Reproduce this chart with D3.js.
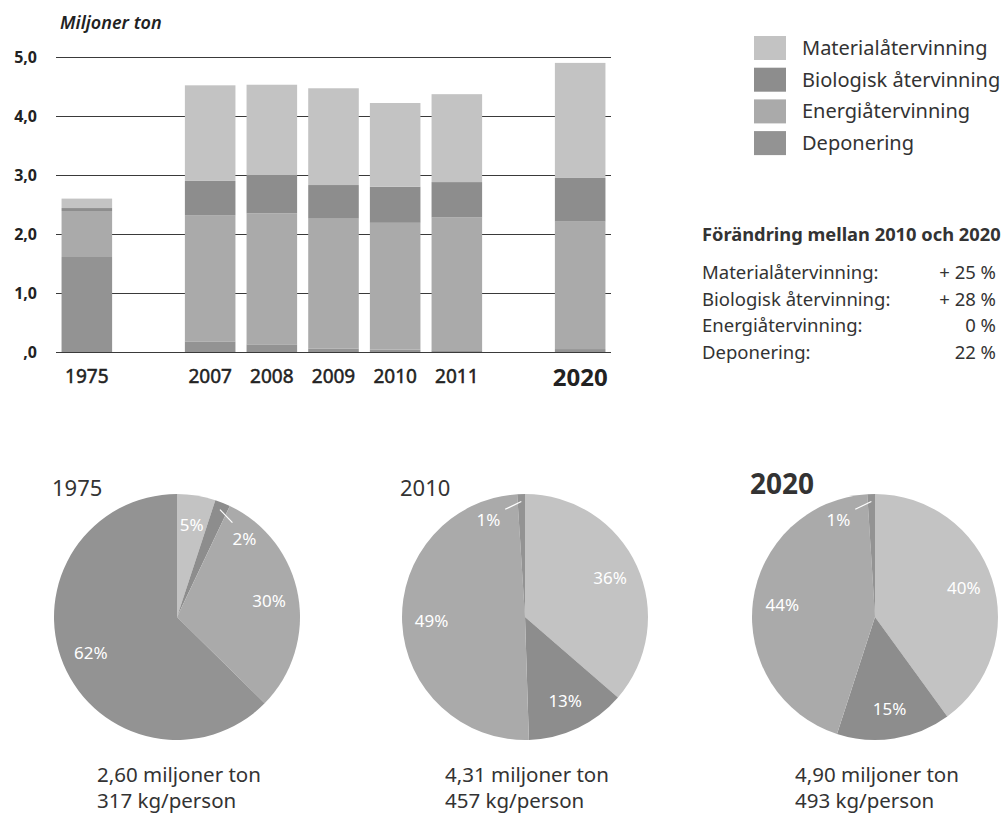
<!DOCTYPE html>
<html>
<head>
<meta charset="utf-8">
<script src="https://cdn.jsdelivr.net/npm/d3@7"></script>
<style>
  body { margin: 0; background: #fff; }
  svg { display: block; font-family: "Noto Sans", sans-serif; }
</style>
</head>
<body>
<svg id="chart" width="1004" height="816"></svg>
<script>
// ---- data ----
const years = ["1975", "2007", "2008", "2009", "2010", "2011", "2020"];
const seriesNames = ["Materialåtervinning", "Biologisk återvinning", "Energiåtervinning", "Deponering"];
// miljoner ton, one value per year
const material = [0.16, 1.62, 1.53, 1.64, 1.42, 1.49, 1.95];
const biologisk = [0.05, 0.58, 0.65, 0.57, 0.61, 0.60, 0.74];
const energi = [0.78, 2.14, 2.22, 2.20, 2.15, 2.25, 2.16];
const deponering = [1.61, 0.18, 0.13, 0.06, 0.04, 0.03, 0.05];
const yTicks = [0, 1, 2, 3, 4, 5];

const changeTitle = "Förändring mellan 2010 och 2020";
const changeValues = ["+ 25 %", "+ 28 %", "0 %", "22 %"];

const pieYears = ["1975", "2010", "2020"];
// percent shares in order material, biologisk, energi, deponering
const pie1975 = [5, 2, 30, 62];
const pie2010 = [36, 13, 49, 1];
const pie2020 = [40, 15, 44, 1];
const pieTonnes = [2.60, 4.31, 4.90];
const pieKgPerson = [317, 457, 493];

const colors = ["#c3c3c3", "#8d8d8d", "#aaaaaa", "#939393"];

// ---- setup ----
const svg = d3.select("#chart");
const keys = ["material", "biologisk", "energi", "deponering"];
const rows = years.map((y, i) => ({
  year: y,
  material: material[i],
  biologisk: biologisk[i],
  energi: energi[i],
  deponering: deponering[i]
}));
const color = d3.scaleOrdinal().domain(keys).range(colors);
const comma = (v, n) => v.toFixed(n).replace(".", ",");

// ---- bar chart ----
const slots = ["1975", "gapA", "2007", "2008", "2009", "2010", "2011", "gapB", "2020"];
const x = d3.scaleBand().domain(slots).range([56, 611]).paddingInner(0.18).paddingOuter(0.09);
const y = d3.scaleLinear().domain([0, 5]).range([352, 57]);

svg.append("text")
  .attr("x", 60).attr("y", 29)
  .style("font-size", "18px").style("font-style", "italic").style("font-weight", "600")
  .attr("fill", "#222")
  .text("Miljoner ton");

const yAxis = svg.append("g")
  .attr("transform", "translate(56,0)")
  .call(d3.axisLeft(y).tickValues(yTicks).tickSize(-555).tickPadding(19)
    .tickFormat(d => d === 0 ? ",0" : comma(d, 1)));
yAxis.select(".domain").remove();
yAxis.selectAll("line").attr("stroke", "#3a3a3a").attr("stroke-width", 1);
yAxis.selectAll("text")
  .attr("fill", "#222").style("font-size", "16px").style("font-weight", "bold")
  .style("font-family", "'Noto Sans', sans-serif");

const stack = d3.stack().keys(keys.slice().reverse());
svg.append("g").selectAll("g")
  .data(stack(rows))
  .join("g")
  .attr("fill", d => color(d.key))
  .selectAll("rect")
  .data(d => d)
  .join("rect")
  .attr("x", d => x(d.data.year))
  .attr("width", x.bandwidth())
  .attr("y", d => y(d[1]))
  .attr("height", d => y(d[0]) - y(d[1]));

const xAxis = svg.append("g")
  .attr("transform", "translate(0,352)")
  .call(d3.axisBottom(x).tickValues(years).tickSize(0).tickPadding(18));
xAxis.select(".domain").remove();
xAxis.selectAll("text")
  .attr("fill", "#222")
  .style("font-family", "'Noto Sans', sans-serif")
  .style("font-size", d => d === "2020" ? "24px" : "19px")
  .style("font-weight", d => d === "2020" ? "bold" : "normal")
  .attr("stroke", d => d === "2020" ? "none" : "#222")
  .attr("stroke-width", 0.5)
  .attr("dy", d => d === "2020" ? "0.68em" : "0.71em");

// ---- legend ----
const legend = svg.append("g").attr("transform", "translate(754,36)");
const legRow = legend.selectAll("g").data(seriesNames).join("g")
  .attr("transform", (d, i) => `translate(0,${i * 31.7})`);
legRow.append("rect")
  .attr("width", 32).attr("height", 24)
  .attr("fill", (d, i) => colors[i]);
legRow.append("text")
  .attr("x", 48).attr("y", 12).attr("dy", "0.35em")
  .style("font-size", "20px").attr("fill", "#333")
  .text(d => d);

// ---- change table ----
const table = svg.append("g");
table.append("text")
  .attr("x", 702).attr("y", 235).attr("dy", "0.35em")
  .style("font-size", "18.3px").style("font-weight", "bold").attr("fill", "#333")
  .text(changeTitle);
const tRow = table.selectAll("g.row").data(seriesNames).join("g")
  .attr("class", "row")
  .attr("transform", (d, i) => `translate(0,${273 + i * 26.4})`);
tRow.append("text")
  .attr("x", 702).attr("dy", "0.35em")
  .style("font-size", "18.5px").attr("fill", "#333")
  .text(d => d + ":");
tRow.append("text")
  .attr("x", 996).attr("dy", "0.35em").attr("text-anchor", "end")
  .style("font-size", "18.5px").attr("fill", "#333")
  .text((d, i) => changeValues[i]);

// ---- pies ----
const pieData = [pie1975, pie2010, pie2020];
const centers = [177, 525, 875];
const radius = 123;
const pie = d3.pie().sort(null).value(d => d);
const arc = d3.arc().innerRadius(0).outerRadius(radius);
const pt = (a, r) => [Math.sin(a) * r, -Math.cos(a) * r];

pieData.forEach((vals, p) => {
  const g = svg.append("g").attr("transform", `translate(${centers[p]},617)`);
  const arcs = pie(vals);
  g.selectAll("path").data(arcs).join("path")
    .attr("d", arc)
    .attr("fill", (d, i) => colors[i]);

  arcs.forEach(d => {
    const mid = (d.startAngle + d.endAngle) / 2;
    const label = g.append("text")
      .attr("text-anchor", "middle").attr("dy", "0.35em")
      .style("font-size", "17px").attr("fill", "#fff")
      .text(d.value + "%");
    if (d.value < 3) {
      const dir = mid > Math.PI ? -1 : 1;
      const a = pt(mid, radius * 0.94), b = pt(mid + dir * 0.15, radius * 0.89);
      g.append("line")
        .attr("x1", a[0]).attr("y1", a[1]).attr("x2", b[0]).attr("y2", b[1])
        .attr("stroke", "#fff").attr("stroke-width", 1.2);
      const t = pt(mid + dir * 0.33, radius * 0.84);
      label.attr("x", t[0]).attr("y", t[1]);
    } else {
      const t = pt(mid, radius * 0.76);
      label.attr("x", t[0]).attr("y", t[1]);
    }
  });

  const big = pieYears[p] === "2020";
  svg.append("text")
    .attr("x", centers[p] - 125).attr("y", big ? 494 : 496)
    .style("font-size", big ? "28px" : "22px").style("font-weight", big ? "bold" : "normal")
    .attr("fill", "#333")
    .text(pieYears[p]);

  svg.append("text")
    .attr("x", centers[p] - 80).attr("y", 782)
    .style("font-size", "20.5px").attr("fill", "#333")
    .text(comma(pieTonnes[p], 2) + " miljoner ton");
  svg.append("text")
    .attr("x", centers[p] - 80).attr("y", 808)
    .style("font-size", "20.5px").attr("fill", "#333")
    .text(pieKgPerson[p] + " kg/person");
});
</script>
</body>
</html>
